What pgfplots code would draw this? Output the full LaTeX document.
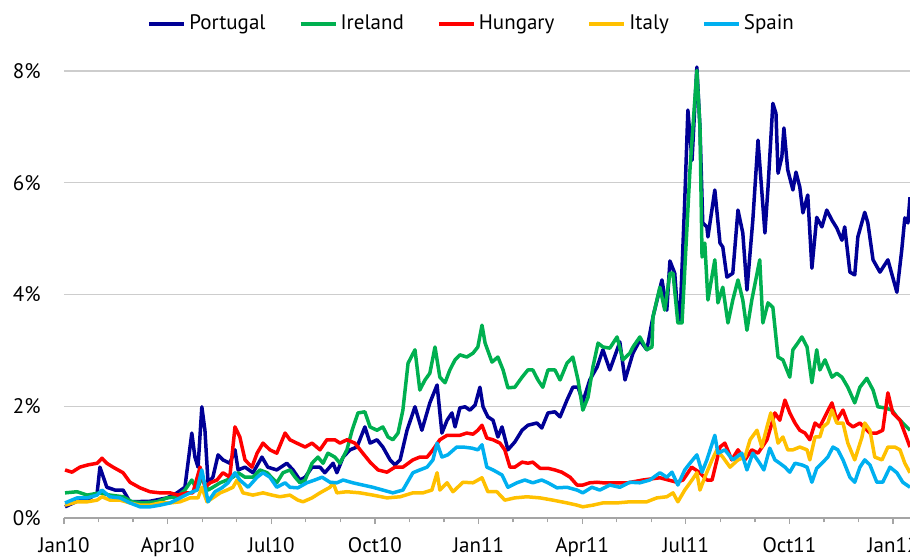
\documentclass[border=0pt]{standalone}
\usepackage{pgfplots}
\pgfplotsset{compat=1.18}
\usepackage{fontspec}
\setmainfont{PT Sans}
\definecolor{portugal}{RGB}{0,0,150}
\definecolor{ireland}{RGB}{0,176,80}
\definecolor{hungary}{RGB}{255,0,0}
\definecolor{italy}{RGB}{255,192,0}
\definecolor{spain}{RGB}{0,176,240}
\definecolor{gridgray}{RGB}{205,205,205}
\definecolor{axisgray}{RGB}{165,165,165}
\begin{document}
\fontsize{10.5}{12}\selectfont
\begin{tikzpicture}
\useasboundingbox (-32pt,-20pt) rectangle (423pt,259pt);
\begin{axis}[
  at={(0,0)}, anchor=south west,
  scale only axis, width=423pt, height=237.5pt,
  xmin=0, xmax=24.49, ymin=0, ymax=8.5,
  axis x line*=bottom, axis y line*=left,
  axis line style={-},
  x axis line style={draw=axisgray, line width=0.6pt},
  y axis line style={draw=none},
  xtick={0,3,...,24},
  xticklabels={Jan10,Apr10,Jul10,Oct10,Jan11,Apr11,Jul11,Oct11,Jan12},
  minor x tick num=2,
  xtick pos=bottom, tick align=outside,
  major tick length=3pt, minor tick length=2.2pt,
  x tick style={draw=axisgray, line width=0.6pt},
  minor x tick style={draw=axisgray, line width=0.6pt},
  ytick={0,2,4,6,8},
  yticklabels={0\%,2\%,4\%,6\%,8\%},
  y tick style={draw=none},
  ymajorgrids, grid style={draw=gridgray, line width=0.6pt},
  yticklabel style={xshift=-5pt},
  xticklabel style={yshift=-3pt},
  tick label style={font=\fontsize{10.5}{12}\selectfont},
  every axis plot/.append style={line width=1.75pt, line join=round},
  legend columns=5,
  legend style={draw=none, fill=none, at={(0.098,1.040)}, anchor=west,
    inner sep=0pt, font=\fontsize{10.5}{12}\selectfont,
    /tikz/every even column/.append style={column sep=15pt},
    nodes={inner xsep=1.5pt, inner ysep=0pt}},
  legend image code/.code={\draw[#1, line width=2pt] (0pt,0pt) -- (17.5pt,0pt);},
]
\addplot[portugal] coordinates {
(0.03,0.20)(0.38,0.30)(0.67,0.32)(0.96,0.45)(1.04,0.91)(1.24,0.55)(1.48,0.50)(1.71,0.50)(1.91,0.29)
(2.49,0.30)(2.98,0.36)(3.27,0.45)(3.50,0.55)(3.70,1.52)(3.79,1.09)(3.88,0.91)(3.99,1.99)(4.08,1.57)
(4.17,0.63)(4.31,0.73)(4.46,1.13)(4.60,1.04)(4.80,0.98)(4.95,1.22)(5.04,0.86)(5.24,0.91)(5.47,0.81)
(5.73,1.09)(5.90,0.91)(6.16,0.86)(6.45,0.98)(6.63,0.86)(6.83,0.68)(6.98,0.73)(7.18,0.91)(7.41,0.91)
(7.55,0.81)(7.79,0.98)(7.90,0.81)(8.08,1.09)(8.28,1.22)(8.48,1.27)(8.71,1.63)(8.86,1.34)(9.06,1.40)
(9.23,1.27)(9.44,1.04)(9.58,0.95)(9.73,1.04)(9.93,1.57)(10.16,1.99)(10.36,1.57)(10.59,2.06)(10.80,2.38)
(10.94,1.52)(11.09,1.75)(11.23,1.88)(11.32,1.63)(11.46,1.97)(11.61,1.99)(11.75,1.93)(11.90,2.02)
(12.04,2.34)(12.13,1.99)(12.27,1.81)(12.42,1.75)(12.56,1.45)(12.68,1.63)(12.85,1.22)(13.05,1.36)
(13.26,1.57)(13.43,1.66)(13.69,1.70)(13.83,1.61)(14.01,1.88)(14.21,1.90)(14.36,1.81)(14.56,2.11)
(14.73,2.34)(14.88,2.34)(15.02,2.08)(15.22,2.47)(15.43,2.70)(15.60,3.01)(15.80,2.65)(16.01,3.01)
(16.09,3.15)(16.24,2.47)(16.47,2.95)(16.67,3.18)(16.87,3.01)(17.05,3.60)(17.31,4.26)(17.45,3.72)
(17.54,4.60)(17.68,4.38)(17.77,3.60)(17.83,3.54)(17.97,5.69)(18.06,7.30)(18.18,6.40)(18.32,8.07)
(18.41,6.99)(18.49,5.28)(18.61,5.21)(18.64,5.03)(18.84,5.87)(18.99,4.92)(19.07,4.85)(19.19,4.31)
(19.36,4.38)(19.51,5.51)(19.65,5.10)(19.77,4.08)(19.94,5.33)(20.09,6.76)(20.29,5.10)(20.38,5.92)
(20.52,7.42)(20.61,7.24)(20.67,6.17)(20.78,6.46)(20.84,6.98)(20.95,6.23)(21.10,5.87)(21.19,6.19)
(21.30,5.92)(21.39,5.46)(21.53,5.78)(21.65,4.47)(21.79,5.38)(21.94,5.21)(22.08,5.51)(22.23,5.33)
(22.37,5.19)(22.52,4.97)(22.60,5.21)(22.75,4.40)(22.89,4.35)(22.98,5.03)(23.18,5.47)(23.27,5.28)
(23.42,4.62)(23.62,4.40)(23.85,4.62)(24.11,4.04)(24.25,4.79)(24.34,5.37)(24.43,5.28)(24.49,5.74)
};
\addlegendentry{Portugal}
\addplot[ireland] coordinates {
(0.03,0.45)(0.38,0.47)(0.67,0.41)(1.04,0.45)(1.33,0.41)(1.71,0.38)(1.97,0.29)(2.29,0.27)(2.69,0.29)
(2.98,0.36)(3.27,0.38)(3.50,0.50)(3.70,0.68)(3.85,0.50)(3.99,0.73)(4.17,0.50)(4.31,0.55)(4.52,0.63)
(4.72,0.68)(4.89,0.73)(5.04,0.81)(5.24,0.73)(5.47,0.73)(5.67,0.86)(5.88,0.81)(6.16,0.63)(6.34,0.81)
(6.54,0.86)(6.69,0.73)(6.83,0.63)(6.98,0.68)(7.18,0.98)(7.35,1.09)(7.50,0.98)(7.64,1.16)(7.84,1.09)
(7.99,0.98)(8.19,1.22)(8.34,1.57)(8.51,1.88)(8.71,1.90)(8.86,1.63)(9.06,1.57)(9.23,1.63)(9.38,1.45)
(9.52,1.40)(9.67,1.52)(9.81,1.93)(9.96,2.77)(10.16,3.01)(10.30,2.29)(10.45,2.47)(10.59,2.59)
(10.74,3.06)(10.88,2.52)(11.03,2.42)(11.17,2.65)(11.32,2.83)(11.46,2.92)(11.66,2.88)(11.84,2.95)
(11.98,3.06)(12.10,3.45)(12.19,3.13)(12.39,2.79)(12.56,2.88)(12.71,2.65)(12.85,2.33)(13.05,2.34)
(13.26,2.52)(13.43,2.65)(13.57,2.65)(13.72,2.47)(13.86,2.34)(14.01,2.65)(14.21,2.65)(14.36,2.47)
(14.56,2.77)(14.73,2.88)(14.88,2.47)(15.02,1.93)(15.17,2.16)(15.31,2.70)(15.46,3.13)(15.60,3.06)
(15.80,3.04)(16.01,3.24)(16.18,2.83)(16.38,2.95)(16.47,3.06)(16.67,3.24)(16.87,3.01)(17.02,3.06)
(17.05,3.60)(17.25,4.13)(17.39,3.72)(17.54,4.38)(17.63,4.38)(17.77,3.49)(17.89,3.49)(18.12,6.23)
(18.32,8.01)(18.41,6.99)(18.47,4.67)(18.55,4.92)(18.64,3.90)(18.84,4.62)(18.93,3.85)(19.07,4.13)
(19.22,3.49)(19.36,3.90)(19.51,4.26)(19.65,3.90)(19.77,3.36)(19.91,3.90)(20.14,4.62)(20.23,3.49)
(20.38,3.85)(20.52,3.77)(20.67,2.88)(20.81,2.83)(21.01,2.52)(21.10,3.01)(21.24,3.13)(21.36,3.24)
(21.51,3.06)(21.65,2.42)(21.79,3.01)(21.88,2.65)(22.03,2.83)(22.23,2.52)(22.37,2.59)(22.52,2.52)
(22.69,2.34)(22.89,2.06)(23.04,2.34)(23.24,2.50)(23.42,2.29)(23.56,1.99)(23.76,1.97)(23.97,1.93)
(24.11,1.81)(24.28,1.70)(24.49,1.57)
};
\addlegendentry{Ireland}
\addplot[hungary] coordinates {
(0.03,0.86)(0.23,0.82)(0.46,0.91)(0.69,0.95)(0.96,0.98)(1.10,1.07)(1.24,0.98)(1.42,0.91)(1.71,0.81)
(1.91,0.64)(2.20,0.54)(2.49,0.47)(2.78,0.45)(3.07,0.45)(3.30,0.41)(3.56,0.45)(3.73,0.45)(3.94,0.91)
(4.08,0.55)(4.23,0.63)(4.43,0.68)(4.60,0.81)(4.80,0.73)(4.95,1.63)(5.09,1.45)(5.24,1.04)(5.44,0.91)
(5.59,1.16)(5.76,1.34)(5.96,1.22)(6.16,1.16)(6.40,1.52)(6.54,1.40)(6.74,1.34)(6.98,1.27)(7.18,1.34)
(7.41,1.22)(7.61,1.40)(7.84,1.40)(7.99,1.34)(8.19,1.40)(8.42,1.34)(8.65,1.16)(8.86,1.00)(9.09,0.86)
(9.35,0.82)(9.58,0.91)(9.81,0.91)(10.10,1.04)(10.30,1.09)(10.51,1.09)(10.68,1.22)(10.88,1.40)
(11.09,1.48)(11.26,1.48)(11.46,1.48)(11.66,1.52)(11.84,1.50)(11.98,1.57)(12.10,1.66)(12.24,1.43)
(12.42,1.40)(12.62,1.34)(12.76,1.22)(12.91,0.91)(13.05,0.91)(13.26,1.00)(13.43,0.98)(13.57,1.00)
(13.78,0.89)(14.01,0.89)(14.21,0.86)(14.41,0.82)(14.65,0.73)(14.85,0.59)(15.02,0.59)(15.22,0.63)
(15.43,0.64)(15.60,0.63)(15.86,0.63)(16.09,0.63)(16.32,0.63)(16.76,0.68)(17.25,0.72)(17.74,0.64)
(17.92,0.68)(18.17,0.91)(18.41,0.81)(18.61,0.68)(18.76,0.68)(18.99,1.27)(19.13,1.34)(19.33,1.04)
(19.51,1.22)(19.71,1.04)(19.91,1.22)(20.09,1.16)(20.35,1.40)(20.46,1.63)(20.58,1.88)(20.72,1.75)
(20.87,2.11)(21.01,1.88)(21.16,1.70)(21.30,1.57)(21.45,1.52)(21.59,1.40)(21.74,1.70)(21.88,1.63)
(22.08,1.88)(22.23,2.06)(22.37,1.75)(22.55,1.93)(22.69,1.70)(22.84,1.63)(23.04,1.70)(23.33,1.52)
(23.53,1.52)(23.70,1.57)(23.85,2.24)(23.99,1.88)(24.20,1.75)(24.34,1.52)(24.49,1.27)
};
\addlegendentry{Hungary}
\addplot[italy] coordinates {
(0.03,0.23)(0.38,0.29)(0.67,0.29)(0.96,0.32)(1.10,0.38)(1.33,0.32)(1.62,0.32)(1.91,0.27)(2.20,0.23)
(2.49,0.23)(2.78,0.27)(3.07,0.27)(3.36,0.29)(3.65,0.36)(3.88,0.36)(3.99,0.55)(4.14,0.29)(4.31,0.36)
(4.52,0.45)(4.72,0.50)(4.89,0.55)(5.01,0.68)(5.18,0.45)(5.47,0.41)(5.76,0.45)(6.02,0.41)(6.25,0.38)
(6.54,0.41)(6.77,0.32)(6.92,0.29)(7.18,0.36)(7.41,0.45)(7.70,0.55)(7.79,0.63)(7.90,0.45)(8.19,0.47)
(8.57,0.45)(8.94,0.41)(9.35,0.36)(9.73,0.38)(10.10,0.45)(10.39,0.45)(10.65,0.50)(10.80,0.81)
(10.88,0.50)(11.09,0.63)(11.26,0.47)(11.55,0.64)(11.84,0.63)(12.10,0.72)(12.27,0.47)(12.53,0.47)
(12.76,0.32)(13.05,0.36)(13.40,0.38)(13.78,0.36)(14.15,0.32)(14.56,0.27)(14.85,0.23)(15.02,0.20)
(15.31,0.23)(15.60,0.27)(16.01,0.27)(16.38,0.29)(16.87,0.29)(17.16,0.36)(17.45,0.38)(17.63,0.45)
(17.77,0.29)(17.97,0.50)(18.18,0.68)(18.32,0.81)(18.41,0.50)(18.55,0.73)(18.76,1.04)(18.90,1.22)
(19.07,1.09)(19.28,0.91)(19.51,1.04)(19.71,1.09)(19.86,1.40)(20.06,1.57)(20.20,1.27)(20.35,1.63)
(20.46,1.88)(20.55,1.70)(20.67,1.34)(20.81,1.45)(20.95,1.22)(21.10,1.22)(21.30,1.27)(21.51,1.22)
(21.59,1.04)(21.74,1.45)(21.88,1.45)(21.97,1.63)(22.11,1.70)(22.23,1.93)(22.37,1.70)(22.55,1.70)
(22.69,1.34)(22.89,1.04)(23.10,1.45)(23.18,1.70)(23.33,1.57)(23.47,1.09)(23.68,1.04)(23.85,1.27)
(24.05,1.27)(24.20,1.22)(24.34,0.98)(24.49,0.81)
};
\addlegendentry{Italy}
\addplot[spain] coordinates {
(0.03,0.27)(0.38,0.36)(0.67,0.36)(0.96,0.41)(1.10,0.50)(1.33,0.38)(1.62,0.36)(1.91,0.27)(2.20,0.20)
(2.49,0.20)(2.78,0.23)(3.07,0.27)(3.36,0.36)(3.65,0.45)(3.85,0.50)(3.99,0.86)(4.17,0.29)(4.37,0.47)
(4.57,0.54)(4.75,0.63)(4.95,0.81)(5.09,0.68)(5.33,0.55)(5.59,0.73)(5.76,0.81)(5.96,0.73)(6.16,0.55)
(6.40,0.63)(6.54,0.55)(6.77,0.54)(7.03,0.63)(7.26,0.68)(7.47,0.73)(7.70,0.64)(7.90,0.63)(8.08,0.68)
(8.36,0.63)(8.65,0.59)(8.94,0.55)(9.23,0.50)(9.52,0.45)(9.81,0.50)(10.10,0.81)(10.30,0.86)(10.51,0.91)
(10.68,1.04)(10.80,1.34)(10.94,1.09)(11.11,1.13)(11.37,1.27)(11.55,1.27)(11.81,1.25)(11.98,1.22)
(12.10,1.31)(12.24,0.91)(12.42,0.86)(12.68,0.77)(12.85,0.55)(13.11,0.63)(13.34,0.68)(13.57,0.63)
(13.83,0.68)(14.01,0.63)(14.27,0.54)(14.56,0.55)(14.85,0.50)(15.02,0.45)(15.28,0.55)(15.51,0.50)
(15.80,0.59)(16.09,0.55)(16.38,0.64)(16.67,0.63)(16.96,0.68)(17.25,0.81)(17.45,0.73)(17.60,0.82)
(17.77,0.59)(17.97,0.86)(18.12,0.98)(18.32,1.13)(18.47,0.82)(18.61,1.04)(18.84,1.48)(18.93,1.16)
(19.13,1.22)(19.36,1.04)(19.62,1.16)(19.77,0.86)(19.94,1.16)(20.14,0.98)(20.26,0.86)(20.43,1.25)
(20.58,1.04)(20.72,0.98)(20.87,0.91)(21.01,0.82)(21.16,0.98)(21.36,0.95)(21.51,0.91)(21.65,0.64)
(21.79,0.89)(21.94,0.98)(22.11,1.09)(22.26,1.27)(22.40,1.22)(22.55,1.04)(22.75,0.73)(22.89,0.64)
(23.04,0.91)(23.18,1.04)(23.33,0.95)(23.53,0.64)(23.70,0.64)(23.91,0.91)(24.11,0.81)(24.28,0.64)
(24.49,0.55)
};
\addlegendentry{Spain}
\end{axis}
\end{tikzpicture}
\end{document}
